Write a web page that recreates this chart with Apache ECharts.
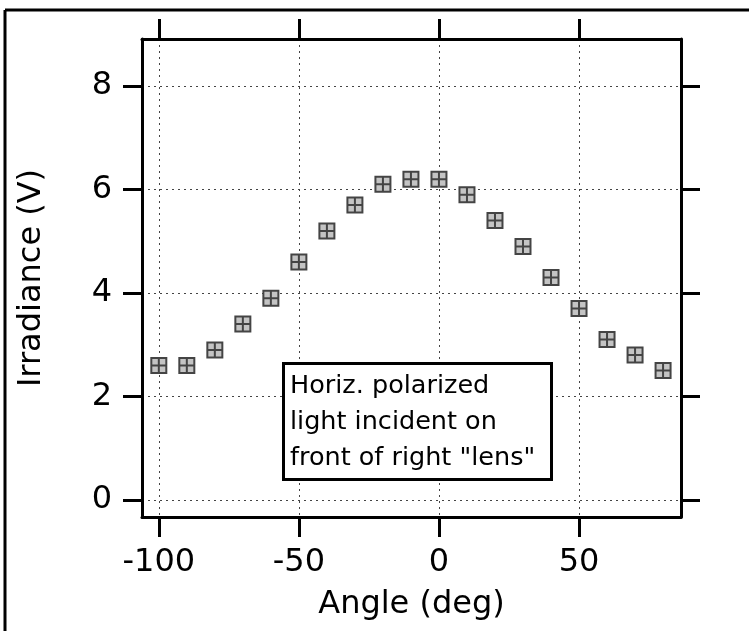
<!DOCTYPE html>
<html>
<head>
<meta charset="utf-8">
<script src="https://cdn.jsdelivr.net/npm/echarts@6/dist/echarts.min.js"></script>
<style>
    html, body {margin: 0; padding: 0; background: #fff;}
    #chart {width: 749px; height: 631px;}
</style>
</head>
<body>
<div id="chart"></div>
<script>
// 数据
const angles = [-100, -90, -80, -70, -60, -50, -40, -30, -20, -10, 0, 10, 20, 30, 40, 50, 60, 70, 80];
const irradiance = [2.6, 2.6, 2.9, 3.4, 3.9, 4.6, 5.2, 5.7, 6.1, 6.2, 6.2, 5.9, 5.4, 4.9, 4.3, 3.7, 3.1, 2.8, 2.5];
const xTicks = [-100, -50, 0, 50];
const yTicks = [0, 2, 4, 6, 8];
const noteLines = ['Horiz. polarized', 'light incident on', 'front of right "lens"'];

const font = 'DejaVu Sans';
const xRange = [-106, 86.4];
const yRange = [-0.33, 8.91];

let points = [];
for (let i = 0; i < angles.length; i++) {
    points.push([angles[i], irradiance[i]]);
}

// 公共轴样式
const axisLine = {show: true, onZero: false, lineStyle: {color: '#000', width: 3}};
const gridLine = {show: true, lineStyle: {color: '#444', width: 1, type: [2, 4]}};
const textStyle = {fontFamily: font, fontSize: 32, color: '#000'};

function xAxis(pos, main) {
    return {
        type: 'value',
        position: pos,
        min: xRange[0],
        max: xRange[1],
        axisLine: axisLine,
        axisTick: {show: true, length: 20, customValues: xTicks, lineStyle: {color: '#000', width: 3}},
        axisLabel: Object.assign({show: main, customValues: xTicks, margin: 30}, textStyle),
        splitLine: main ? Object.assign({}, gridLine, {customValues: xTicks}) : {show: false},
        name: main ? 'Angle (deg)' : '',
        nameLocation: 'middle',
        nameGap: 72,
        nameTextStyle: textStyle
    };
}

function yAxis(pos, main) {
    return {
        type: 'value',
        position: pos,
        min: yRange[0],
        max: yRange[1],
        axisLine: axisLine,
        axisTick: {show: true, length: 19, customValues: yTicks, lineStyle: {color: '#000', width: 3}},
        axisLabel: Object.assign({show: main, customValues: yTicks, margin: 30}, textStyle),
        splitLine: main ? Object.assign({}, gridLine, {customValues: yTicks}) : {show: false},
        name: main ? 'Irradiance (V)' : '',
        nameLocation: 'middle',
        nameGap: 94,
        nameTextStyle: textStyle
    };
}

let chart = echarts.init(document.getElementById('chart'), null, {renderer: 'canvas'});
chart.setOption({
    animation: false,
    backgroundColor: '#fff',
    grid: {left: 142, right: 68, top: 39, bottom: 114},
    xAxis: [xAxis('bottom', true), xAxis('top', false)],
    yAxis: [yAxis('left', true), yAxis('right', false)],
    series: [{
        type: 'scatter',
        data: points,
        symbol: 'path://M0,0H10V10H0Z M5,0V10 M0,5H10',
        symbolSize: 15,
        itemStyle: {color: '#c4c4c4', borderColor: '#444', borderWidth: 2, opacity: 1}
    }],
    graphic: [
        // 外框
        {type: 'line', shape: {x1: 5, y1: 10, x2: 749, y2: 10}, style: {stroke: '#000', lineWidth: 3}},
        {type: 'line', shape: {x1: 5, y1: 10, x2: 5, y2: 631}, style: {stroke: '#000', lineWidth: 3}},
        // 注释框
        {
            type: 'rect', left: 282, top: 362, z: 10,
            shape: {width: 268, height: 116},
            style: {fill: '#fff', stroke: '#000', lineWidth: 3}
        },
        {
            type: 'text', left: 290, top: 368, z: 11,
            style: {text: noteLines.join('\n'), font: '25.5px "' + font + '"', lineHeight: 36, fill: '#000'}
        }
    ]
});
</script>
</body>
</html>
